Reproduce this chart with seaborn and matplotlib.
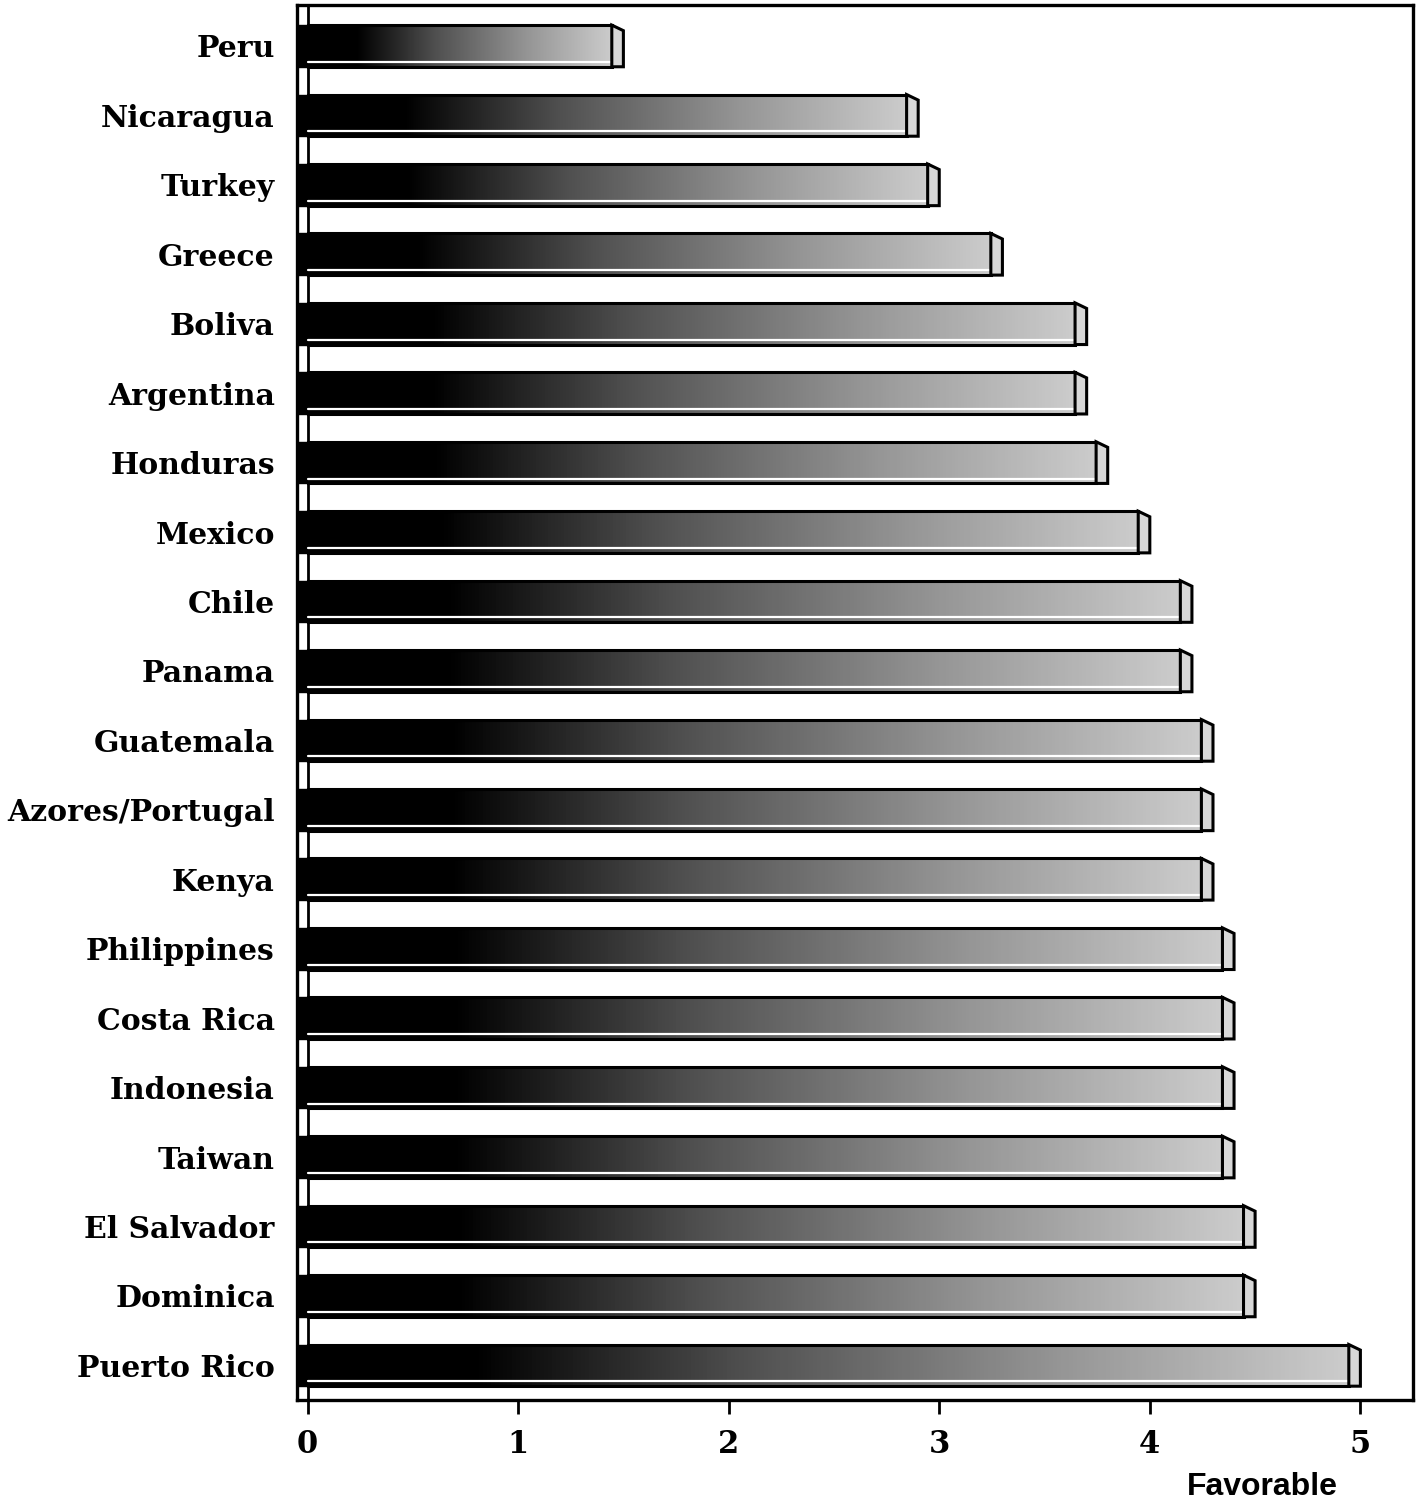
import numpy as np
import pandas as pd
import matplotlib
matplotlib.use("Agg")
import matplotlib.pyplot as plt
import seaborn as sns
from matplotlib.patches import Polygon, Rectangle
from matplotlib.colors import LinearSegmentedColormap

countries = ["Peru", "Nicaragua", "Turkey", "Greece", "Boliva", "Argentina",
             "Honduras", "Mexico", "Chile", "Panama", "Guatemala",
             "Azores/Portugal", "Kenya", "Philippines", "Costa Rica",
             "Indonesia", "Taiwan", "El Salvador", "Dominica", "Puerto Rico"]
favorable = [1.5, 2.9, 3.0, 3.3, 3.7, 3.7, 3.8, 4.0, 4.2, 4.2, 4.3, 4.3, 4.3,
             4.4, 4.4, 4.4, 4.4, 4.5, 4.5, 5.0]
x_ticks = [0, 1, 2, 3, 4, 5]

df = pd.DataFrame({"country": countries, "favorable": favorable})

sns.set_theme(style="white")
plt.rcParams["font.family"] = ["DejaVu Serif"]
plt.rcParams["text.color"] = "black"
plt.rcParams["xtick.color"] = "black"
plt.rcParams["ytick.color"] = "black"
plt.rcParams["axes.labelcolor"] = "black"

fig = plt.figure(figsize=(14.17, 15.04), dpi=100)
ax = fig.add_axes([0.2096, 0.0691, 0.7876, 0.9276])

bar_h = 0.6
sns.barplot(data=df, x="favorable", y="country", orient="h", color="black",
            width=bar_h, ax=ax, zorder=3)

ax.set_xlim(-0.05, 5.25)
ax.set_ylim(19.5, -0.59)

# black-to-light-gray shading along each bar
cmap = LinearSegmentedColormap.from_list(
    "shade", [(0.0, "#000000"), (0.16, "#000000"), (0.42, "#505050"),
              (0.72, "#959595"), (1.0, "#cccccc")])
grad = np.linspace(0, 1, 256).reshape(1, -1)
depth = 0.055  # width of the end face

for patch, val in zip(ax.patches[:len(favorable)], favorable):
    y0 = patch.get_y()
    h = patch.get_height()
    front = val - depth
    patch.set_width(front)
    patch.set_facecolor("none")
    patch.set_edgecolor("black")
    patch.set_linewidth(2.2)
    im = ax.imshow(grad, cmap=cmap, aspect="auto",
                   extent=(0, front, y0 + h, y0), zorder=2)
    im.set_clip_path(patch)
    # thin underside strip of the bar
    ax.plot([0, front], [y0 + h - 0.07, y0 + h - 0.07], color="white",
            lw=1.6, zorder=4)
    # right end face
    side = Polygon([(front, y0), (val, y0 + 0.08), (val, y0 + h), (front, y0 + h)],
                   closed=True, facecolor="#d8d8d8", edgecolor="black",
                   linewidth=2.2, zorder=4)
    ax.add_patch(side)
    # bar continuing across the left wall
    ax.add_patch(Rectangle((-0.05, y0), 0.05, h, facecolor="black",
                           edgecolor="black", lw=1, zorder=3))

ax.axvline(0, color="black", lw=2, zorder=1)

for s in ax.spines.values():
    s.set_visible(True)
    s.set_color("black")
    s.set_linewidth(2.4)

ax.set_xticks(x_ticks)
ax.set_xticklabels([str(t) for t in x_ticks], fontsize=22, fontweight="bold")
ax.tick_params(axis="x", direction="out", length=10, width=2, color="black",
               pad=11, bottom=True, labelcolor="black")
ax.tick_params(axis="y", length=0, pad=16, labelcolor="black")
for lab in ax.get_yticklabels():
    lab.set_fontsize(21.5)
    lab.set_fontweight("bold")

ax.set_xlabel("")
ax.set_ylabel("")
ax.grid(False)

fig.text(0.8906, 0.0113, "Favorable", ha="center", va="center",
         fontsize=23, fontweight="bold", family=["Liberation Sans"],
         color="black")

fig.savefig("out.png", dpi=100, facecolor="white")
